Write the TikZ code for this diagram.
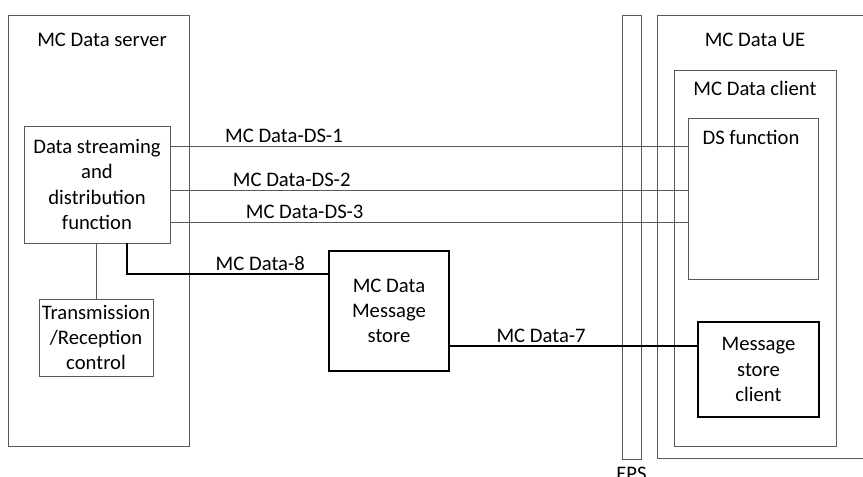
\documentclass[tikz,border=0pt]{standalone}
\usepackage{fontspec}
\setmainfont{Carlito}
\definecolor{boxgray}{HTML}{595959}

\tikzstyle{main}   = [inner sep=0pt, outer sep=0pt, text centered, align=center]
\tikzstyle{gbox}   = [main, draw=boxgray, line width=0.75pt]
\tikzstyle{kbox}   = [main, draw=black, line width=1pt]
\tikzstyle{title}  = [inner sep=0pt, outer sep=0pt]
\tikzstyle{gline}  = [draw=boxgray, line width=0.75pt]
\tikzstyle{kline}  = [draw=black, line width=1pt]
\tikzstyle{ilabel} = [above, inner sep=2pt]

\begin{document}
\begin{tikzpicture}[x=0.75pt, y=-0.75pt, font=\fontsize{15.5}{19}\selectfont]
     \clip (0,0) rectangle (863,476);
     % server side
     \node[gbox, minimum width=135.75pt, minimum height=323.25pt] (server) at (98.5, 230.5) {};
     \node[title] (servertitle) at (102, 40) {MC Data server};
     \node[gbox, minimum width=109.5pt, minimum height=87.75pt] (dsd) at (97, 184.5) {Data streaming\\and\\distribution\\function};
     \node[gbox, minimum width=85.5pt, minimum height=57.75pt] (trc) at (96, 337.5) {Transmission\\/Reception\\control};
     \node[kbox, minimum width=90pt, minimum height=90pt] (store) at (389, 311) {MC Data\\Message\\store};
     % EPS and UE side
     \node[gbox, minimum width=14.25pt, minimum height=333pt] (eps) at (631.5, 237) {};
     \node[title, anchor=north] (epstitle) at (631.5, 467) {EPS};
     \node[gbox, minimum width=167.25pt, minimum height=332.25pt] (ue) at (768.5, 236.5) {};
     \node[title] (uetitle) at (755, 40) {MC Data UE};
     \node[gbox, minimum width=121.5pt, minimum height=282pt] (client) at (755, 258) {};
     \node[title] (clienttitle) at (755, 88) {MC Data client};
     \node[gbox, minimum width=97.5pt, minimum height=120.75pt] (dsf) at (753, 198.5) {};
     \node[title] (dsftitle) at (751, 137) {DS function};
     \node[kbox, minimum width=90.75pt, minimum height=71.25pt] (msc) at (758.5, 369.5) {Message\\store\\client};

     \coordinate (ds1) at (0, 146);
     \coordinate (ds2) at (0, 190);
     \coordinate (ds3) at (0, 222);
     \coordinate (m8)  at (127, 274);
     \coordinate (m7)  at (0, 346);

     \draw[gline] (dsd.east |- ds1) -- node[ilabel, pos=0.22] {MC Data-DS-1} (dsf.west |- ds1);
     \draw[gline] (dsd.east |- ds2) -- node[ilabel, pos=0.235] {MC Data-DS-2} (dsf.west |- ds2);
     \draw[gline] (dsd.east |- ds3) -- node[ilabel, pos=0.26] {MC Data-DS-3} (dsf.west |- ds3);
     \draw[gline] (dsd.south -| trc) -- (trc.north);
     \draw[kline] (dsd.south -| m8) |- node[ilabel, pos=0.83] {MC Data-8} (store.west |- m8);
     \draw[kline] (store.east |- m7) -- node[ilabel, pos=0.37] {MC Data-7} (msc.west |- m7);
   \end{tikzpicture}
\end{document}
